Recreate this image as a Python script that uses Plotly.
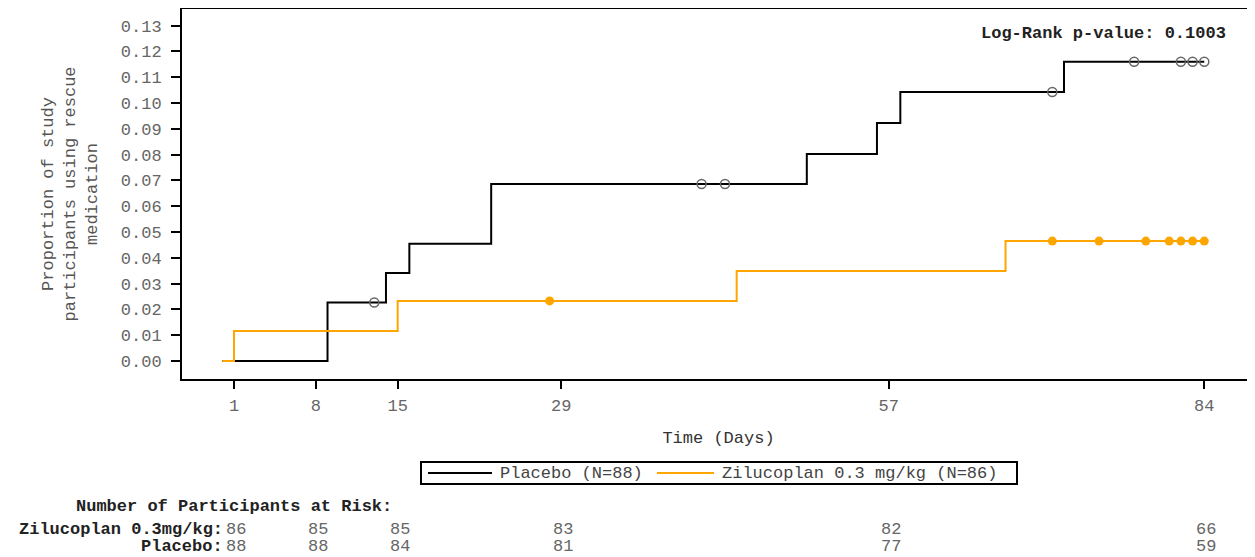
import plotly.graph_objects as go

# ---------------- data ----------------
placebo_times = [0, 9, 14, 16, 23, 50, 56, 58, 72, 84]
placebo_prop = [0.0, 0.0227, 0.0341, 0.0455, 0.0686, 0.0803, 0.0923, 0.1043, 0.1160, 0.1160]
placebo_censor_times = [13, 41, 43, 71, 78, 82, 83, 84]

zil_times = [0, 1, 15, 44, 67, 84]
zil_prop = [0.0, 0.0116, 0.0233, 0.0349, 0.0465, 0.0465]
zil_censor_times = [28, 71, 75, 79, 81, 82, 83, 84]

x_tick_vals = [1, 8, 15, 29, 57, 84]
risk_days = [1, 8, 15, 29, 57, 84]
risk_zil = [86, 85, 85, 83, 82, 66]
risk_placebo = [88, 88, 84, 81, 77, 59]

placebo_name = "Placebo (N=88)"
zil_name = "Zilucoplan 0.3 mg/kg (N=86)"
p_value_text = "Log-Rank p-value: 0.1003"


def step_value(times, props, t):
    val = props[0]
    for ti, pi in zip(times, props):
        if ti <= t:
            val = pi
    return val


# ---------------- layout geometry (page pixels) ----------------
OFF = 8                      # default body margin of the html page
W, H = 1255 - OFF, 557 - OFF
PL, PR, PT, PB = 182, 1255, 9, 379   # plot area in page pixels
FONT = "Liberation Mono, Courier New, monospace"
FS = 17
ORANGE = "#FFA500"
TICK_GRAY = "#666666"


def px(xp):
    return (xp - PL) / (PR - PL)


def py(yp):
    return (PB - yp) / (PB - PT)


fig = go.Figure()

fig.add_trace(go.Scatter(
    x=placebo_times, y=placebo_prop, mode="lines", line_shape="hv",
    line=dict(color="black", width=2), name=placebo_name, showlegend=False))
fig.add_trace(go.Scatter(
    x=placebo_censor_times,
    y=[step_value(placebo_times, placebo_prop, t) for t in placebo_censor_times],
    mode="markers", marker=dict(symbol="circle-open", size=9, color="#666666",
                                line=dict(width=1.5, color="#666666")),
    showlegend=False, name=placebo_name + " censored"))
fig.add_trace(go.Scatter(
    x=zil_times, y=zil_prop, mode="lines", line_shape="hv",
    line=dict(color=ORANGE, width=2), name=zil_name, showlegend=False))
fig.add_trace(go.Scatter(
    x=zil_censor_times,
    y=[step_value(zil_times, zil_prop, t) for t in zil_censor_times],
    mode="markers", marker=dict(symbol="circle", size=9, color=ORANGE),
    showlegend=False, name=zil_name + " censored"))

XS = 11.69      # px per day
YS = 2579.0     # px per unit proportion
x_range = [1 - (234 - PL) / XS, 1 + (PR - 234) / XS]
y_range = [-(PB - 361) / YS, 0.13 + (25.7 - PT) / YS]

fig.update_layout(
    width=W, height=H,
    margin=dict(l=PL - OFF, r=W - (PR - OFF), t=PT - OFF, b=H - (PB - OFF), pad=0),
    paper_bgcolor="white", plot_bgcolor="white",
    font=dict(family=FONT, size=FS, color="#555555"),
    showlegend=False,
    xaxis=dict(
        range=x_range, tickmode="array", tickvals=x_tick_vals,
        ticks="outside", ticklen=8, tickwidth=2, tickcolor="black",
        showline=True, linecolor="black", linewidth=2, mirror=True,
        showgrid=False, zeroline=False, automargin=False,
        ticklabelstandoff=2,
        tickfont=dict(family=FONT, size=FS, color=TICK_GRAY),
        title=dict(text="Time (Days)", standoff=16,
                   font=dict(family=FONT, size=FS, color="#333333")),
    ),
    yaxis=dict(
        range=y_range, tickmode="linear", tick0=0, dtick=0.01, tickformat=".2f",
        ticks="outside", ticklen=9, tickwidth=2, tickcolor="black",
        showline=True, linecolor="black", linewidth=2, mirror=False,
        showgrid=False, zeroline=False, automargin=False,
        ticklabelstandoff=6,
        tickfont=dict(family=FONT, size=FS, color=TICK_GRAY),
        title=dict(text="Proportion of study<br>participants using rescue<br>medication",
                   standoff=19,
                   font=dict(family=FONT, size=FS, color="#555555")),
    ),
)

annotations = []
annotations.append(dict(
    text="<b>" + p_value_text + "</b>", xref="paper", yref="paper",
    x=px(1228), y=py(34), xanchor="right", yanchor="middle", showarrow=False,
    font=dict(family=FONT, size=FS, color="#222222")))

# at-risk table
annotations.append(dict(
    text="<b>Number of Participants at Risk:</b>", xref="paper", yref="paper",
    x=px(74), y=py(506), xanchor="left", yanchor="middle", showarrow=False,
    font=dict(family=FONT, size=FS, color="#222222")))
for label, counts, yrow in [("Zilucoplan 0.3mg/kg:", risk_zil, 529),
                            ("Placebo:", risk_placebo, 546)]:
    annotations.append(dict(
        text="<b>" + label + "</b>", xref="paper", yref="paper",
        x=px(225), y=py(yrow), xanchor="right", yanchor="middle", showarrow=False,
        font=dict(family=FONT, size=FS, color="#222222")))
    for d, c in zip(risk_days, counts):
        annotations.append(dict(
            text=str(c), xref="x", yref="paper", x=d, y=py(yrow), xshift=2,
            xanchor="center", yanchor="middle", showarrow=False,
            font=dict(family=FONT, size=FS, color=TICK_GRAY)))

# legend (drawn as a boxed key under the axis title)
leg_y = 473
annotations.append(dict(
    text=placebo_name, xref="paper", yref="paper", x=px(498), y=py(leg_y),
    xanchor="left", yanchor="middle", showarrow=False,
    font=dict(family=FONT, size=FS, color="#444444")))
annotations.append(dict(
    text=zil_name, xref="paper", yref="paper", x=px(720), y=py(leg_y),
    xanchor="left", yanchor="middle", showarrow=False,
    font=dict(family=FONT, size=FS, color="#444444")))

shapes = [
    dict(type="rect", xref="paper", yref="paper", x0=px(421), x1=px(1017),
         y0=py(462), y1=py(484), line=dict(color="black", width=2)),
    dict(type="line", xref="paper", yref="paper", x0=px(428), x1=px(492),
         y0=py(leg_y), y1=py(leg_y), line=dict(color="black", width=2)),
    dict(type="line", xref="paper", yref="paper", x0=px(657), x1=px(714),
         y0=py(leg_y), y1=py(leg_y), line=dict(color=ORANGE, width=2)),
]

fig.update_layout(annotations=annotations, shapes=shapes)

fig.write_html("out.html")
